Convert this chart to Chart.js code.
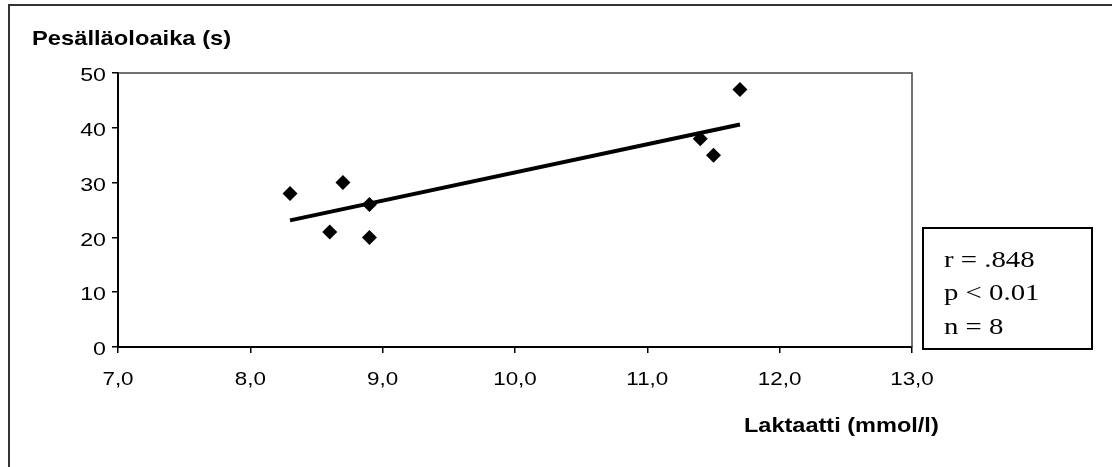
<!DOCTYPE html>
<html>
<head>
<meta charset="utf-8">
<script src="https://cdn.jsdelivr.net/npm/chart.js@4"></script>
<style>
  html, body { margin: 0; padding: 0; background: #fff; }
  canvas { display: block; }
</style>
</head>
<body>
<canvas id="myChart" width="1112" height="467"></canvas>
<script>
// arvot luettu kuvasta
const laktaatti = [8.3, 8.7, 8.6, 8.9, 8.9, 11.4, 11.5, 11.7];
const pesallaoloaika = [28, 30, 21, 26, 20, 38, 35, 47];
const trendiX = [8.3, 11.7];
const trendiY = [23.1, 40.6];
const xTikit = ['7,0', '8,0', '9,0', '10,0', '11,0', '12,0', '13,0'];
const yTikit = ['0', '10', '20', '30', '40', '50'];
const tilasto = ['r = .848', 'p < 0.01', 'n = 8'];
const yOtsikko = 'Pesälläoloaika (s)';
const xOtsikko = 'Laktaatti (mmol/l)';

const pisteet = laktaatti.map((x, i) => ({x: x, y: pesallaoloaika[i]}));
const trendi = trendiX.map((x, i) => ({x: x, y: trendiY[i]}));

// skannattu kuva on venynyt vaakasuunnassa
function teksti(ctx, s, x, y, align, sx) {
    ctx.save();
    ctx.translate(x, y);
    ctx.scale(sx, 1);
    ctx.textAlign = align;
    ctx.fillText(s, 0, 0);
    ctx.restore();
}

const piirto = {
    id: 'piirto',
    afterDraw(chart) {
        const ctx = chart.ctx;
        const a = chart.chartArea;
        const sx = chart.scales.x, sy = chart.scales.y;
        ctx.save();
        // ulkoreunat
        ctx.strokeStyle = '#333';
        ctx.lineWidth = 2;
        ctx.beginPath();
        ctx.moveTo(9, 467);
        ctx.lineTo(9, 5);
        ctx.lineTo(1112, 5);
        ctx.stroke();
        // kuvaajan ylä- ja oikea reuna
        ctx.strokeStyle = '#444';
        ctx.lineWidth = 1.5;
        ctx.beginPath();
        ctx.moveTo(a.left, a.top);
        ctx.lineTo(a.right, a.top);
        ctx.lineTo(a.right, a.bottom);
        ctx.stroke();

        ctx.fillStyle = '#000';
        ctx.textBaseline = 'alphabetic';
        ctx.font = '19px "Liberation Sans", Arial, sans-serif';
        sx.ticks.forEach((t, i) => {
            teksti(ctx, xTikit[i], sx.getPixelForValue(t.value), 385, 'center', 1.18);
        });
        ctx.textBaseline = 'middle';
        sy.ticks.forEach((t, i) => {
            teksti(ctx, yTikit[i], 106, sy.getPixelForValue(t.value) + 3, 'right', 1.22);
        });

        ctx.textBaseline = 'alphabetic';
        ctx.font = 'bold 21px "Liberation Sans", Arial, sans-serif';
        teksti(ctx, yOtsikko, 32, 45, 'left', 1.13);
        teksti(ctx, xOtsikko, 744, 432, 'left', 1.12);

        // tilastolaatikko
        ctx.strokeStyle = '#000';
        ctx.lineWidth = 2;
        ctx.strokeRect(923, 228, 169, 121);
        ctx.font = '24px "Liberation Serif", "Times New Roman", serif';
        const rivit = [267, 300, 334];
        tilasto.forEach((s, i) => teksti(ctx, s, 944, rivit[i], 'left', 1.2));
        ctx.restore();
    }
};

new Chart('myChart', {
    type: 'scatter',
    data: {
        datasets: [{
            data: pisteet,
            pointStyle: 'rectRot',
            pointRadius: 7.5,
            pointBackgroundColor: '#000',
            pointBorderWidth: 0
        }, {
            type: 'line',
            data: trendi,
            borderColor: '#000',
            borderWidth: 4,
            pointRadius: 0,
            showLine: true
        }]
    },
    options: {
        responsive: false,
        animation: false,
        layout: {padding: {top: 73, right: 200, left: 0, bottom: 0}},
        plugins: {legend: {display: false}, tooltip: {enabled: false}},
        scales: {
            x: {
                type: 'linear', min: 7, max: 13,
                ticks: {stepSize: 1, display: false},
                grid: {drawOnChartArea: false, drawTicks: true, tickLength: 6, color: '#000', lineWidth: 1.5},
                border: {display: true, color: '#000', width: 2},
                afterFit(scale) { scale.height = 120; }
            },
            y: {
                min: 0, max: 50,
                ticks: {stepSize: 10, display: false},
                grid: {drawOnChartArea: false, drawTicks: true, tickLength: 6, color: '#000', lineWidth: 1.5},
                border: {display: true, color: '#000', width: 2},
                afterFit(scale) { scale.width = 118; }
            }
        }
    },
    plugins: [piirto]
});
</script>
</body>
</html>
